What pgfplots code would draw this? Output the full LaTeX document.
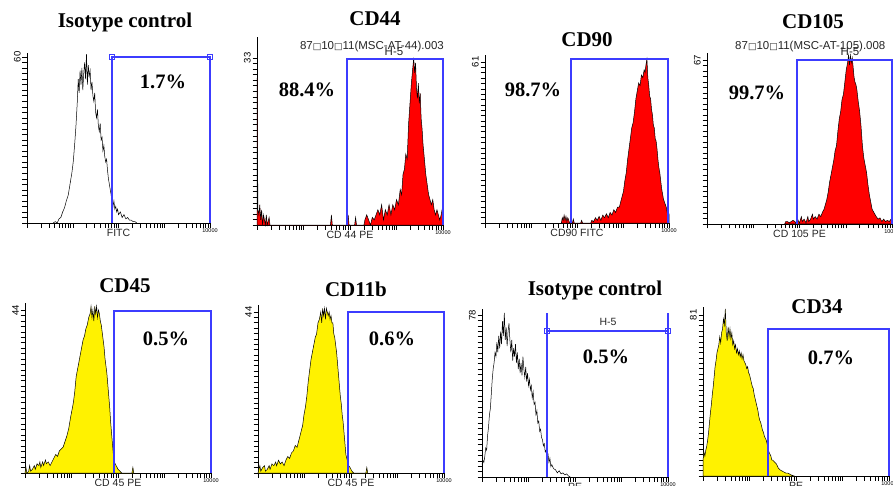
\documentclass[border=0pt]{standalone}
\usepackage{pgfplots}
\pgfplotsset{compat=1.18}
\usepackage{pgfplotstable}
\usepackage{fontspec}
\setmainfont{Liberation Serif}
\newfontfamily\ssf{Liberation Sans}
\newfontfamily\dvs{DejaVu Sans}
\definecolor{gateblue}{RGB}{60,60,255}

% ---------- histogram data (x = decades of fluorescence, y = counts) ----------
\pgfplotstableread{
x y
0.57 0
0.62 0.5
0.66 0
0.70 1.5
0.74 2
0.78 4
0.82 5.5
0.86 8
0.90 10
0.94 14
0.98 18
1.01 22
1.04 28
1.07 35
1.10 44
1.12 52
1.14 47
1.16 55
1.18 50
1.20 56
1.22 48
1.24 54
1.26 58
1.28 52
1.30 61
1.32 50
1.34 57
1.36 53
1.38 55
1.40 48
1.42 51
1.44 46
1.46 44
1.48 47
1.50 40
1.52 38
1.54 41
1.56 35
1.58 33
1.60 36
1.62 30
1.64 31
1.66 26
1.68 28
1.70 24
1.72 22
1.74 23
1.76 19
1.78 16
1.80 14
1.82 12
1.84 10
1.86 8
1.88 6
1.90 8
1.92 5
1.94 6
1.96 4
1.98 5
2.00 3
2.04 4
2.08 2
2.12 3
2.16 1.5
2.20 2
2.24 1
2.28 1
2.32 0.5
2.36 0.5
2.40 0
}\isoA

\pgfplotstableread{
x y
0.00 29
0.02 3
0.04 2
0.06 4
0.08 1
0.10 3
0.12 0
0.14 2
0.16 1
0.18 0
0.20 2
0.22 0
0.26 1.5
0.28 0
0.40 0
1.58 0
1.60 2
1.62 0
1.94 0
1.96 2
1.98 0
2.10 0
2.12 1.5
2.14 0
2.30 0
2.32 1
2.36 2
2.40 1
2.44 0
2.48 1.5
2.52 1
2.56 2
2.60 3
2.64 2
2.68 4
2.72 1
2.76 3
2.80 2
2.84 4
2.88 2
2.92 4
2.96 3
3.00 5
3.04 4
3.08 7
3.11 6
3.14 10
3.17 11
3.20 14
3.23 13
3.26 20
3.29 24
3.32 28
3.35 31
3.37 33
3.39 30
3.41 32
3.43 27
3.45 25
3.47 28
3.49 24
3.51 26
3.53 21
3.55 19
3.57 16
3.60 13
3.63 10
3.66 8
3.69 6
3.72 5
3.75 4
3.78 5
3.81 3
3.84 2
3.87 3
3.90 2
3.93 1
3.96 2
3.98 3
4.00 4
}\cdFortyFour

\pgfplotstableread{
x y
1.66 0
1.68 2
1.70 1
1.72 3
1.74 1
1.76 2.5
1.78 0.5
1.80 2
1.82 1
1.84 0
1.90 0
1.92 1.5
1.94 0
2.08 0
2.10 1
2.12 0
2.30 0
2.32 1
2.36 0.5
2.40 2
2.44 1
2.48 2.5
2.52 1
2.56 3
2.60 2
2.64 3.5
2.68 2
2.72 4
2.76 3
2.80 5
2.84 4
2.88 6
2.92 6
2.95 8
2.98 10
3.01 12
3.04 16
3.07 19
3.10 24
3.13 28
3.16 32
3.19 36
3.22 38
3.25 42
3.28 47
3.31 50
3.34 53
3.37 52
3.40 56
3.43 55
3.46 58
3.48 57
3.50 60
3.52 62
3.54 55
3.56 52
3.58 48
3.60 47
3.62 43
3.64 41
3.66 37
3.68 36
3.70 32
3.72 31
3.74 28
3.76 24
3.78 21
3.80 19
3.82 16
3.84 13
3.86 11
3.88 9
3.90 8
3.92 7
3.94 6
3.96 4
3.98 2
4.00 3
}\cdNinety

\pgfplotstableread{
x y
1.68 0
1.70 1
1.74 1
1.78 0.5
1.82 1
1.86 1.5
1.90 1
1.94 0
1.96 2
1.98 1
2.00 0.5
2.04 3
2.06 1
2.10 2
2.14 0.5
2.18 3
2.20 1
2.24 2
2.28 4
2.30 2
2.34 3
2.38 2
2.42 4
2.46 3
2.50 5
2.53 6
2.56 8
2.59 10
2.62 13
2.65 17
2.68 20
2.71 23
2.74 26
2.77 30
2.80 32
2.83 38
2.86 43
2.89 46
2.92 51
2.95 53
2.98 58
3.01 63
3.04 66
3.06 69
3.08 65
3.10 69
3.12 66
3.14 68
3.16 64
3.18 60
3.20 58
3.22 57
3.24 55
3.27 50
3.30 46
3.33 40
3.36 32
3.39 27
3.42 24
3.45 21
3.48 16
3.51 12
3.54 9
3.57 6
3.60 5
3.63 4
3.66 3
3.70 2
3.74 2.5
3.78 1
3.82 2
3.86 1
3.90 1.5
3.94 1
3.98 2
4.00 1
}\cdOneOFive

\pgfplotstableread{
x y
0.00 0
0.02 1.5
0.04 0
0.08 0.5
0.10 2
0.12 0.5
0.16 1
0.20 2
0.22 1
0.26 2.5
0.30 2
0.32 3
0.34 1.5
0.38 3
0.40 2
0.44 3.5
0.46 2.5
0.50 3
0.54 2
0.58 3
0.62 4
0.66 5
0.70 4.5
0.74 6
0.78 6.5
0.82 7
0.86 8.5
0.90 10
0.94 12
0.98 15
1.01 17
1.04 19
1.07 22
1.10 26
1.13 28
1.16 30
1.19 32
1.22 34
1.25 36
1.28 37
1.31 39
1.34 40
1.37 42
1.40 43
1.42 45
1.44 42
1.46 44
1.48 41
1.50 45
1.52 43
1.54 45
1.56 42
1.58 44
1.60 43
1.62 41
1.64 40
1.66 38
1.68 36
1.70 34
1.72 31
1.74 29
1.76 27
1.78 24
1.80 21
1.82 18
1.84 14
1.86 11
1.88 8
1.90 5
1.92 3
1.94 2.5
1.96 2
2.00 1
2.04 0.5
2.08 0
2.30 0
2.32 1.5
2.34 0
}\cdFortyFive

\pgfplotstableread{
x y
0.00 0
0.02 1
0.04 2
0.06 0.5
0.10 1.5
0.14 2
0.16 0.5
0.20 1
0.24 2
0.26 1
0.30 2.5
0.34 2
0.38 3
0.40 2
0.44 3.5
0.48 2.5
0.52 3
0.56 2
0.60 3.5
0.64 4.5
0.68 4
0.72 5.5
0.76 6
0.80 7.5
0.84 7
0.88 9
0.92 11
0.96 13
0.99 16
1.02 18
1.05 21
1.08 25
1.11 28
1.14 31
1.17 33
1.20 35
1.23 37
1.26 38
1.29 41
1.32 42
1.35 44
1.37 41
1.39 45
1.41 43
1.43 45
1.45 42
1.47 45
1.49 44
1.51 43
1.53 44
1.55 42
1.57 43
1.59 41
1.61 41
1.63 38
1.65 37
1.67 35
1.69 33
1.71 30
1.73 27
1.75 24
1.77 21
1.79 19
1.81 16
1.83 14
1.85 11
1.87 8
1.89 5
1.91 4
1.93 3
1.95 2
1.98 1.5
2.02 0.5
2.06 0
2.32 0
2.34 1.5
2.36 0
}\cdElevenB

\pgfplotstableread{
x y
0.00 6
0.02 8
0.04 7
0.06 10
0.08 14
0.10 13
0.12 20
0.14 24
0.16 30
0.18 33
0.20 40
0.22 47
0.24 52
0.26 55
0.28 60
0.30 58
0.32 65
0.34 60
0.36 68
0.38 62
0.40 70
0.42 64
0.44 75
0.46 68
0.48 79
0.50 66
0.52 72
0.54 63
0.56 70
0.58 74
0.60 66
0.62 60
0.64 66
0.66 56
0.68 62
0.70 58
0.72 64
0.74 55
0.76 60
0.78 52
0.80 57
0.82 50
0.84 55
0.86 49
0.88 58
0.90 52
0.92 48
0.94 53
0.96 46
0.98 50
1.00 44
1.02 47
1.04 42
1.06 44
1.08 38
1.10 41
1.12 35
1.14 36
1.16 30
1.18 32
1.20 26
1.22 27
1.24 22
1.26 23
1.28 19
1.30 18
1.32 15
1.34 16
1.36 12
1.38 13
1.40 10
1.42 11
1.44 7
1.46 9
1.48 5
1.50 6
1.54 4
1.58 3.5
1.62 2
1.66 3
1.70 1.5
1.74 2
1.78 1
1.82 1.5
1.86 0.5
1.90 0
}\isoB

\pgfplotstableread{
x y
0.00 8
0.02 12
0.04 10
0.06 13
0.08 15
0.10 18
0.12 22
0.14 27
0.16 32
0.18 36
0.20 41
0.22 45
0.24 50
0.26 55
0.28 58
0.30 62
0.32 64
0.34 66
0.36 70
0.38 67
0.40 72
0.42 74
0.44 79
0.46 76
0.48 84
0.50 72
0.52 68
0.54 75
0.56 70
0.58 74
0.60 69
0.62 72
0.64 66
0.66 68
0.68 64
0.70 66
0.72 62
0.74 64
0.76 61
0.78 63
0.80 60
0.82 62
0.84 59
0.86 61
0.88 58
0.90 57
0.92 56
0.94 54
0.96 55
0.98 52
1.00 51
1.02 49
1.04 47
1.06 45
1.08 44
1.10 41
1.12 39
1.14 37
1.16 35
1.18 33
1.20 30
1.22 28
1.24 27
1.26 25
1.28 23
1.30 22
1.32 20
1.34 19
1.36 18
1.38 16
1.40 13
1.42 12
1.44 11
1.46 10
1.48 8
1.50 8
1.54 7
1.58 6
1.62 4
1.66 3
1.70 2.5
1.74 2
1.78 1.5
1.82 1.5
1.86 1
1.90 0.5
1.96 0
}\cdThirtyFour

\pgfplotsset{
  flow/.style={
    scale only axis, clip=false,
    xmin=0, xmax=4, ymin=0,
    axis x line*=bottom, axis y line*=left,
    axis line style={-, line width=0.6pt, black},
    tick align=outside,
    major tick length=4.5pt, minor tick length=4.5pt,
    every tick/.style={line width=0.4pt, black},
    every minor tick/.style={line width=0.4pt, black},
    xtick={0,1,2,3,4}, xticklabels={,,,,10000},
    minor xtick={0.301,0.477,0.602,0.699,0.778,0.845,0.903,0.954,
                 1.301,1.477,1.602,1.699,1.778,1.845,1.903,1.954,
                 2.301,2.477,2.602,2.699,2.778,2.845,2.903,2.954,
                 3.301,3.477,3.602,3.699,3.778,3.845,3.903,3.954},
    xticklabel style={font=\ssf\fontsize{5.5}{5.5}\selectfont, inner sep=1pt},
    yticklabel style={font=\ssf\fontsize{9.5}{9.5}\selectfont, rotate=90, anchor=south, inner sep=1.5pt},
    xlabel style={font=\ssf\fontsize{10.5}{10.5}\selectfont, at={(axis description cs:0.5,0)}, anchor=center, yshift=-10pt, text=black!85},
    minor y tick num=29,
  },
  gate/.style={color=gateblue, draw=gateblue, line width=1.5pt, no marks},
  gatemark/.style={color=gateblue, only marks, mark=square, mark size=2.6pt, mark options={draw=gateblue, line width=0.8pt}},
  histo/.style={draw=black, line width=0.5pt, no marks},
}

\begin{document}
\begin{tikzpicture}
\fill[white] (0,0) rectangle (893pt,485pt);
\useasboundingbox (0,0) rectangle (893pt,485pt);
\clip (0,0) rectangle (893pt,485pt);

% ---------------- top row ----------------
\begin{axis}[flow, at={(27pt,262pt)}, anchor=south west, width=183pt, height=170pt,
  ymax=61.4, ytick={0,60}, yticklabels={,60}, xlabel={FITC}]
  \addplot[histo] table {\isoA};
  \addplot[gate] coordinates {(1.86,0) (1.86,60) (4,60) (4,0)};
  \addplot[gatemark] coordinates {(1.86,60) (4,60)};
\end{axis}

\begin{axis}[flow, at={(257pt,260pt)}, anchor=south west, width=186pt, height=188pt,
  ymax=37.1, ytick={0,33}, yticklabels={,33}, xlabel={CD 44 PE}]
  \addplot[histo, fill=red] table {\cdFortyFour} \closedcycle;
  \addplot[gate] coordinates {(1.94,0) (1.94,32.8) (4,32.8) (4,0)};
\end{axis}

\begin{axis}[flow, at={(485pt,262pt)}, anchor=south west, width=184pt, height=168pt,
  ymax=63.6, ytick={0,61}, yticklabels={,61}, xlabel={CD90 FITC}]
  \addplot[histo, fill=red] table {\cdNinety} \closedcycle;
  \addplot[gate] coordinates {(1.87,0) (1.87,62.1) (3.98,62.1) (3.98,0)};
\end{axis}

\begin{axis}[flow, at={(707pt,261pt)}, anchor=south west, width=185pt, height=171pt,
  ymax=69.9, ytick={0,67}, yticklabels={,67}, xlabel={CD 105 PE}]
  \addplot[histo, fill=red] table {\cdOneOFive} \closedcycle;
  \addplot[gate] coordinates {(1.95,0) (1.95,67) (4,67) (4,0)};
\end{axis}

% ---------------- bottom row ----------------
\begin{axis}[flow, at={(25pt,12pt)}, anchor=south west, width=186pt, height=170pt,
  ymax=45.9, ytick={0,44}, yticklabels={,44}, xlabel={CD 45 PE}]
  \addplot[histo, fill=yellow] table {\cdFortyFive} \closedcycle;
  \addplot[gate] coordinates {(1.91,0) (1.91,43.7) (4,43.7) (4,0)};
\end{axis}

\begin{axis}[flow, at={(258pt,12pt)}, anchor=south west, width=186pt, height=168pt,
  ymax=45.9, ytick={0,44}, yticklabels={,44}, xlabel={CD 45 PE}]
  \addplot[histo, fill=yellow] table {\cdElevenB} \closedcycle;
  \addplot[gate] coordinates {(1.94,0) (1.94,44) (4,44) (4,0)};
\end{axis}

\begin{axis}[flow, at={(482pt,8pt)}, anchor=south west, width=186pt, height=168pt,
  ymax=80.9, ytick={0,78}, yticklabels={,78}, xlabel={PE}]
  \addplot[histo] table {\isoB};
  \addplot[gate] coordinates {(1.40,0) (1.40,79)};
  \addplot[gate] coordinates {(4,0) (4,79)};
  \addplot[gate] coordinates {(1.40,70.3) (4,70.3)};
  \addplot[gatemark] coordinates {(1.40,70.3) (4,70.3)};
\end{axis}

\begin{axis}[flow, at={(703pt,9pt)}, anchor=south west, width=186pt, height=169pt,
  ymax=85, ytick={0,81}, yticklabels={,81}, xlabel={PE}]
  \addplot[histo, fill=yellow] table {\cdThirtyFour} \closedcycle;
  \addplot[gate] coordinates {(1.40,0) (1.40,73.9) (4,73.9) (4,0)};
\end{axis}

% ---------------- titles ----------------
\begin{scope}[every node/.style={font=\bfseries\fontsize{21}{21}\selectfont, inner sep=0pt}]
\node at (125pt,463pt) {Isotype control};
\node at (375pt,466pt) {CD44};
\node at (587pt,445pt) {CD90};
\node at (813pt,463pt) {CD105};
\node at (125pt,199pt) {CD45};
\node at (356pt,196pt) {CD11b};
\node at (595pt,195pt) {Isotype control};
\node at (817pt,178pt) {CD34};
\end{scope}

% ---------------- percentages ----------------
\begin{scope}[every node/.style={font=\bfseries\fontsize{20.5}{20.5}\selectfont, inner sep=0pt}]
\node at (163pt,403pt) {1.7\%};
\node at (307pt,395pt) {88.4\%};
\node at (533pt,395pt) {98.7\%};
\node at (757pt,392pt) {99.7\%};
\node at (166pt,146pt) {0.5\%};
\node at (392pt,146pt) {0.6\%};
\node at (606pt,128pt) {0.5\%};
\node at (831pt,127pt) {0.7\%};
\end{scope}

% ---------------- small instrument labels ----------------
\begin{scope}[every node/.style={font=\ssf\fontsize{11.5}{11.5}\selectfont, inner sep=0pt, text=black!85}]
\node[anchor=east] at (444pt,438pt) {87{\dvs\fontsize{9}{9}\selectfont □}10{\dvs\fontsize{9}{9}\selectfont □}11(MSC-AT-44).003};
\node at (394pt,433pt) {H-5};
\node[anchor=west] at (735pt,438pt) {87{\dvs\fontsize{9}{9}\selectfont □}10{\dvs\fontsize{9}{9}\selectfont □}11(MSC-AT-105).008};
\node at (850pt,433pt) {H-5};
\node[font=\ssf\fontsize{10.5}{10.5}\selectfont] at (608pt,163pt) {H-5};
\end{scope}
\end{tikzpicture}
\end{document}
